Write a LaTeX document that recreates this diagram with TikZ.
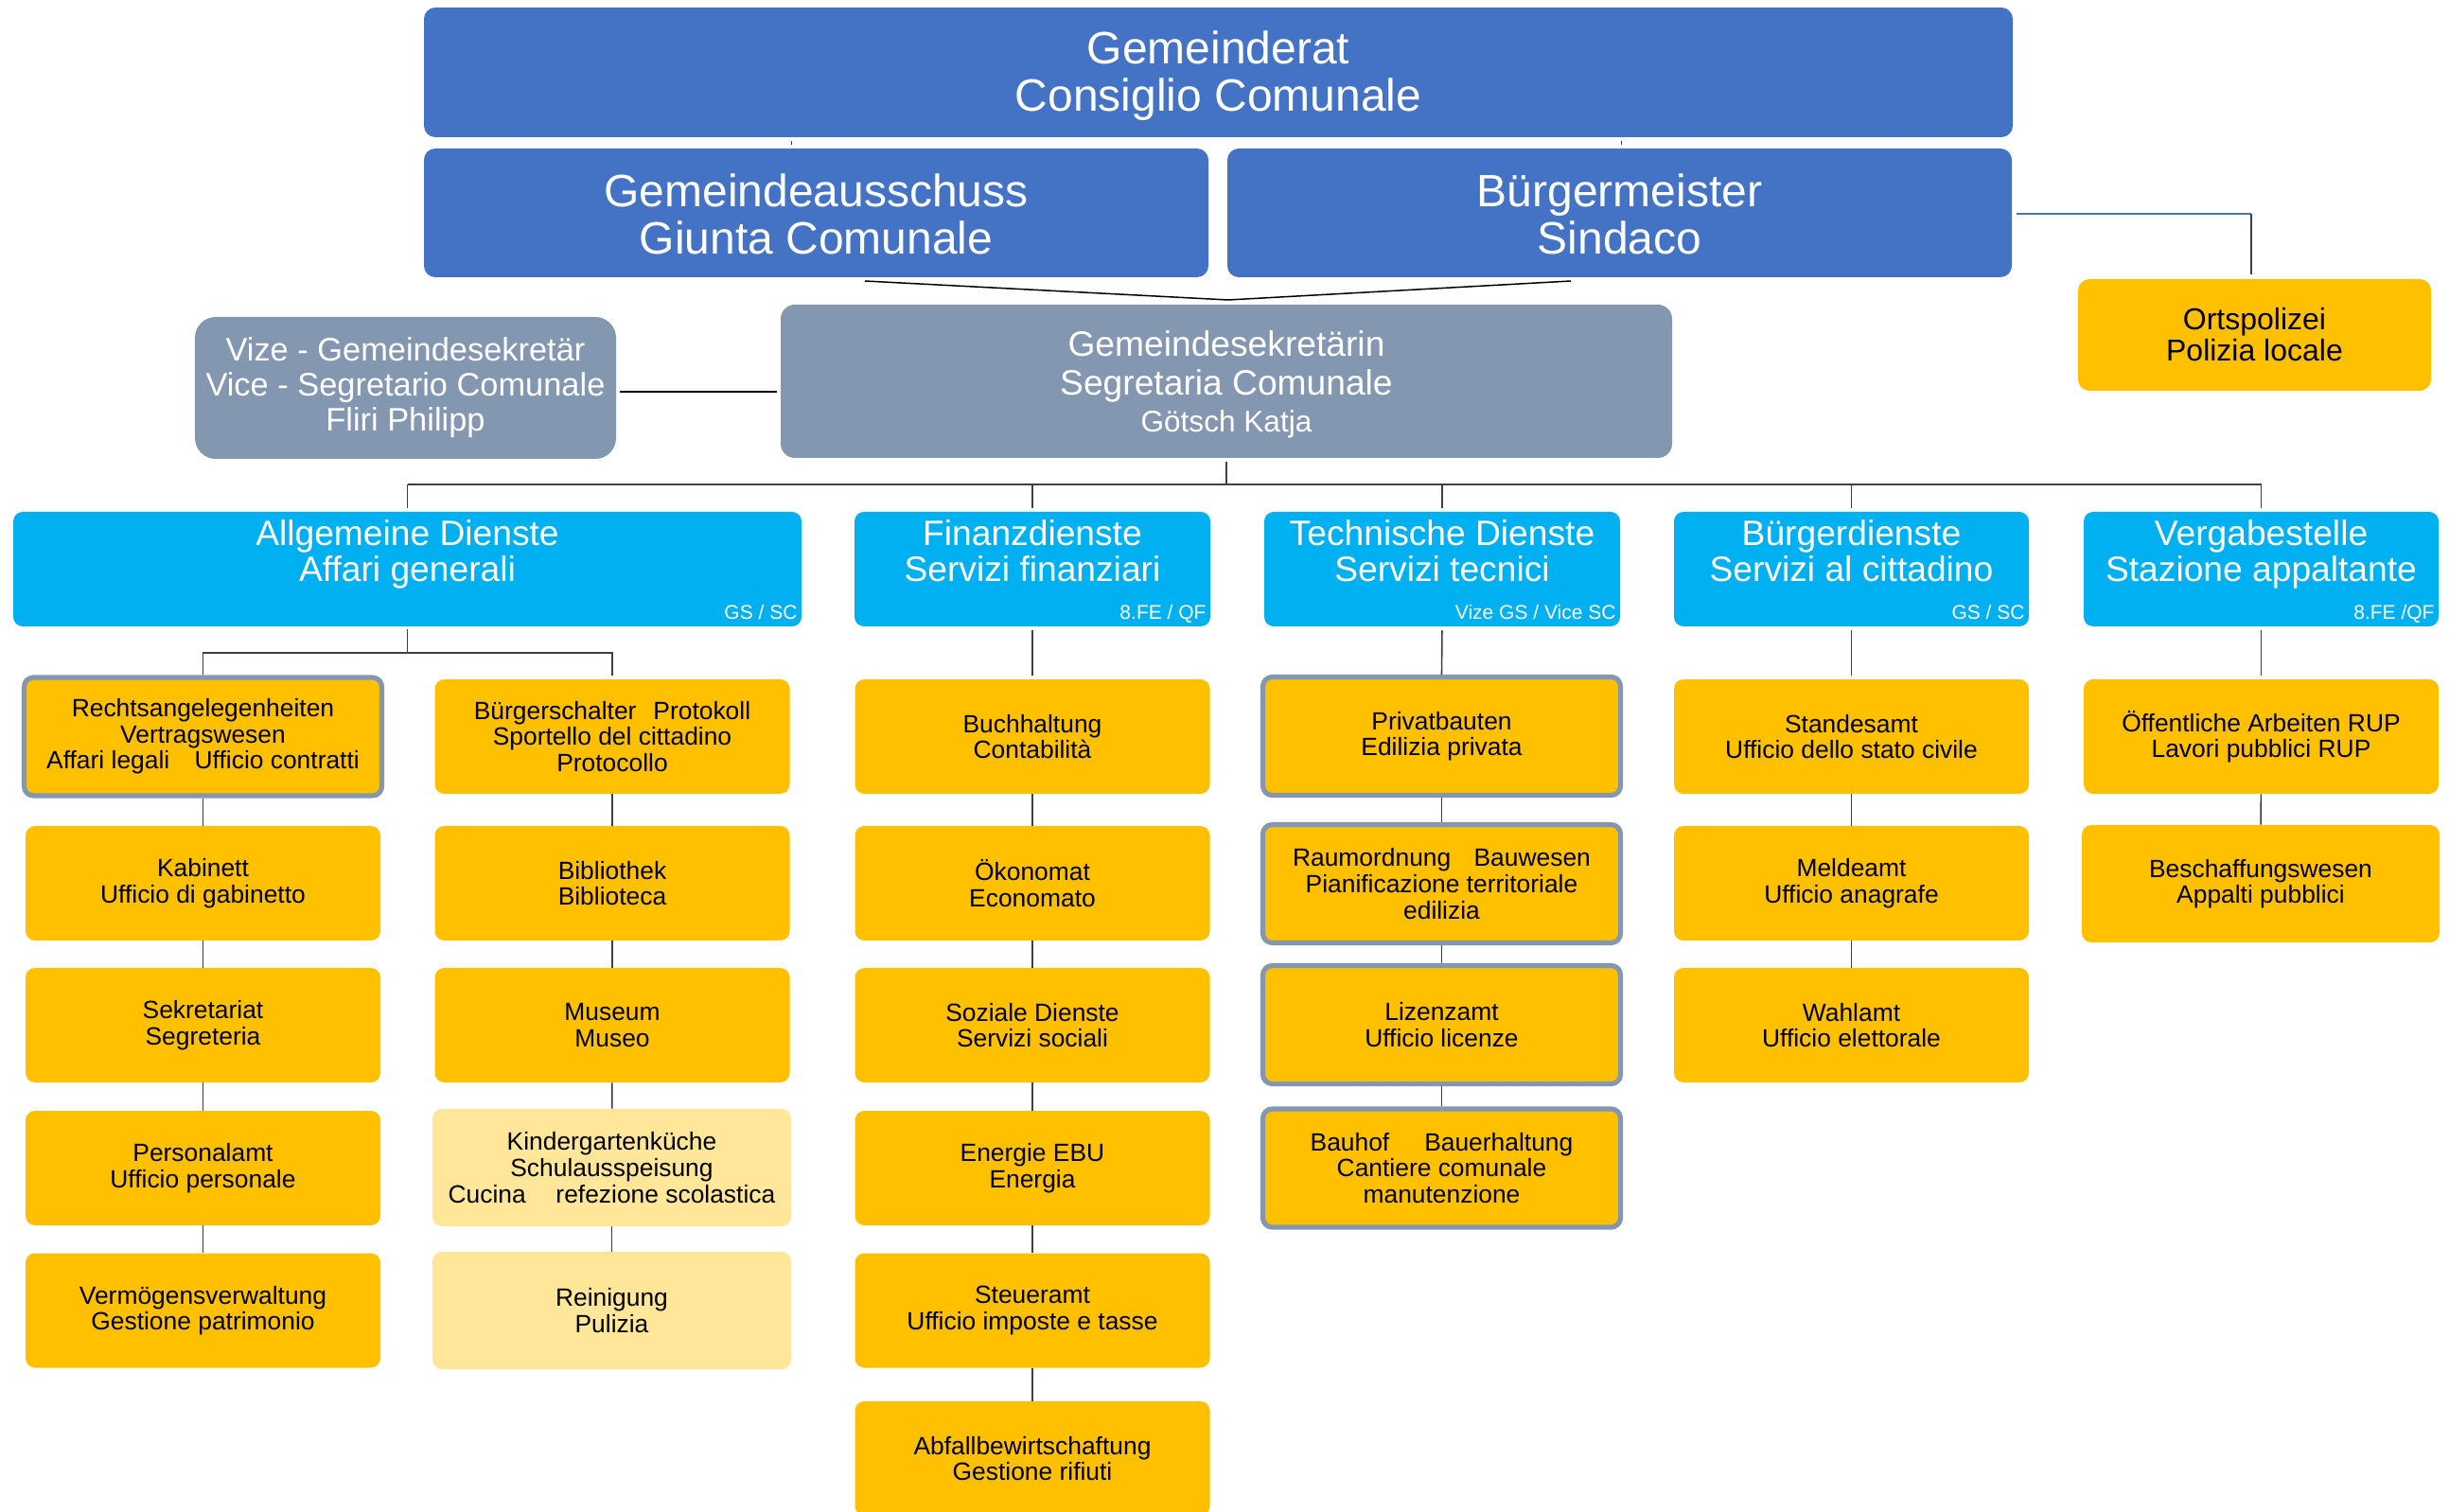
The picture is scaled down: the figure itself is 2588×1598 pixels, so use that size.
\documentclass[tikz,border=0pt]{standalone}
\usepackage{fontspec}
\setmainfont{Liberation Sans}
\definecolor{topblue}{HTML}{4472C4}
\definecolor{grayb}{HTML}{8497B0}
\definecolor{cyanb}{HTML}{00B0F0}
\definecolor{yel}{HTML}{FFC000}
\definecolor{lyel}{HTML}{FFE699}
\definecolor{linec}{HTML}{404040}
\begin{document}
\begin{tikzpicture}[x=0.5pt,y=-0.5pt,
  box/.style={rounded corners=5pt, inner sep=0pt, align=center},
  sz/.style 2 args={minimum width=#1*0.5pt, minimum height=#2*0.5pt},
  topbox/.style={box, fill=topblue, text=white, rounded corners=6pt, font=\fontsize{24}{25}\selectfont},
  graybox/.style={box, fill=grayb, text=white},
  dept/.style={box, fill=cyanb, sz={375}{121}},
  dtitle/.style={text=white, inner sep=0pt, align=center, anchor=north, yshift=-2.8pt, font=\fontsize{18.6}{19}\selectfont},
  dtag/.style={text=white, inner sep=0pt, anchor=base east, xshift=-2.25pt, yshift=4pt, font=\fontsize{10.5}{12}\selectfont},
  leaf/.style={box, fill=yel, sz={375}{121}, font=\fontsize{13.2}{13.8}\selectfont},
  lite/.style={leaf, fill=lyel, sz={379}{124}},
  bord/.style={leaf, draw=grayb, line width=2.6pt, sz={378}{125}},
  conn/.style={draw=linec, line width=0.8pt},
  thin/.style={draw=black, line width=0.75pt},
]
\useasboundingbox (0,0) rectangle (2588,1598);
\fill[white] (0,0) rectangle (2588,1598);

% top level
\node[topbox, sz={1679}{137}] (gr) at (1287.5,76.5) {\rule{0pt}{0.86em}Gemeinderat\\Consiglio Comunale};
\node[topbox, sz={829}{136}] (ga) at (862.5,225) {\rule{0pt}{0.8em}Gemeindeausschuss\\Giunta Comunale};
\node[topbox, sz={829}{136}] (bm) at (1711.5,225) {\rule{0pt}{0.8em}Bürgermeister\\Sindaco};
\node[graybox, rounded corners=7.5pt, sz={942}{162}, font=\fontsize{18.6}{20.5}\selectfont] (gs) at (1296,403)
  {\rule{0pt}{0.9em}Gemeindesekretärin\\Segretaria Comunale\\[-1pt]{\fontsize{15.8}{19.5}\selectfont Götsch Katja}};
\node[graybox, rounded corners=11pt, sz={445}{150}, font=\fontsize{17.2}{18.5}\selectfont] (vz) at (428.5,410)
  {Vize - Gemeindesekretär\\Vice - Segretario Comunale\\Fliri Philipp};
\node[box, fill=yel, rounded corners=6pt, sz={373}{118}, font=\fontsize{16}{16.5}\selectfont] (op) at (2382.5,354)
  {Ortspolizei\\Polizia locale};

% departments
\node[dept, sz={833}{121}] (d1) at (430.5,601.5) {};
\node[dept, sz={376}{121}] (d2) at (1091,601.5) {};
\node[dept, sz={376}{121}] (d3) at (1524,601.5) {};
\node[dept] (d4) at (1956.5,601.5) {};
\node[dept] (d5) at (2389.5,601.5) {};
\node[dtitle] (d1t) at (d1.north) {\rule{0pt}{0.8em}Allgemeine Dienste\\Affari generali};
\node[dtitle] (d2t) at (d2.north) {\rule{0pt}{0.8em}Finanzdienste\\Servizi finanziari};
\node[dtitle] (d3t) at (d3.north) {\rule{0pt}{0.8em}Technische Dienste\\Servizi tecnici};
\node[dtitle] (d4t) at (d4.north) {\rule{0pt}{0.8em}Bürgerdienste\\Servizi al cittadino};
\node[dtitle] (d5t) at (d5.north) {\rule{0pt}{0.8em}Vergabestelle\\Stazione appaltante};
\node[dtag] (d1g) at (d1.south east) {GS / SC};
\node[dtag] (d2g) at (d2.south east) {8.FE / QF};
\node[dtag] (d3g) at (d3.south east) {Vize GS / Vice SC};
\node[dtag] (d4g) at (d4.south east) {GS / SC};
\node[dtag] (d5g) at (d5.south east) {8.FE /QF};

% column A
\node[bord] (a1) at (214.5,778.5) {Rechtsangelegenheiten\\Vertragswesen\\Affari legali\hspace{1em}Ufficio contratti};
\node[leaf] (a2) at (214.5,933.5) {Kabinett\\Ufficio di gabinetto};
\node[leaf] (a3) at (214.5,1083.5) {Sekretariat\\Segreteria};
\node[leaf] (a4) at (214.5,1234.5) {Personalamt\\Ufficio personale};
\node[leaf] (a5) at (214.5,1385) {Vermögensverwaltung\\Gestione patrimonio};
% column B
\node[leaf] (b1) at (647,778.5) {Bürgerschalter\hspace{0.68em}Protokoll\\Sportello del cittadino\\Protocollo};
\node[leaf] (b2) at (647,933.5) {Bibliothek\\Biblioteca};
\node[leaf] (b3) at (647,1083.5) {Museum\\Museo};
\node[lite] (b4) at (646.5,1234) {Kindergartenküche\\Schulausspeisung\\Cucina\hspace{1.2em}refezione scolastica};
\node[lite] (b5) at (646.5,1385) {Reinigung\\Pulizia};
% column C
\node[leaf] (c1) at (1091,778.5) {Buchhaltung\\Contabilità};
\node[leaf] (c2) at (1091,933.5) {Ökonomat\\Economato};
\node[leaf] (c3) at (1091,1083.5) {Soziale Dienste\\Servizi sociali};
\node[leaf] (c4) at (1091,1234.5) {Energie EBU\\Energia};
\node[leaf] (c5) at (1091,1385) {Steueramt\\Ufficio imposte e tasse};
\node[leaf] (c6) at (1091,1541.5) {Abfallbewirtschaftung\\Gestione rifiuti};
% column D
\node[bord] (e1) at (1523.5,778) {Privatbauten\\Edilizia privata};
\node[bord] (e2) at (1523.5,934) {Raumordnung\hspace{0.92em}Bauwesen\\Pianificazione territoriale\\edilizia};
\node[bord] (e3) at (1523.5,1083) {Lizenzamt\\Ufficio licenze};
\node[bord] (e4) at (1523.5,1234.5) {Bauhof\hspace{1.4em}Bauerhaltung\\Cantiere comunale\\manutenzione};
% column E
\node[leaf] (f1) at (1956.5,778.5) {Standesamt\\Ufficio dello stato civile};
\node[leaf] (f2) at (1956.5,933.5) {Meldeamt\\Ufficio anagrafe};
\node[leaf] (f3) at (1956.5,1083.5) {Wahlamt\\Ufficio elettorale};
% column F
\node[leaf] (g1) at (2389.5,778.5) {Öffentliche Arbeiten RUP\\Lavori pubblici RUP};
\node[leaf, sz={378}{124}] (g2) at (2389,934) {Beschaffungswesen\\Appalti pubblici};

% connectors top
\coordinate (k1) at (836,0);
\coordinate (k2) at (1713,0);
\draw[conn, line width=0.5pt, shorten <=2pt, shorten >=2pt] (gr.south -| k1) -- (ga.north -| k1);
\draw[conn, line width=0.5pt, shorten <=2pt, shorten >=2pt] (gr.south -| k2) -- (bm.north -| k2);
\coordinate (p1) at (914,297);
\coordinate (p2) at (1660,297);
\coordinate (pm) at (1298,317);
\draw[thin] (p1) -- (pm) -- (p2);
\coordinate (vl) at (0,414);
\draw[thin, shorten <=2pt, shorten >=2pt] (vz.east |- vl) -- (gs.west |- vl);
\coordinate (ol) at (0,226);
\coordinate (oc) at (2379,0);
\draw[draw=topblue, line width=0.75pt] ([xshift=2.5pt]bm.east |- ol) -- (oc |- ol);
\draw[conn, shorten >=2.5pt] (oc |- ol) -- (oc |- op.north);

% bus
\coordinate (bus) at (0,512);
\draw[conn, shorten <=2pt] (gs.south) -- (gs.south |- bus);
\draw[conn] (d1.north |- bus) -- (d5.north |- bus);
\foreach \d in {d1,d2,d3,d4,d5}{
  \draw[conn, shorten <=2pt] (\d.north) -- (\d.north |- bus);
}

% Allgemeine branch
\coordinate (j1) at (0,690);
\draw[conn, shorten <=1.5pt] (d1.south) -- (d1.south |- j1);
\draw[conn] (a1.north) -- (a1.north |- j1) -| ([yshift=2pt]b1.north);

% columns
\draw[conn] (a1) -- (a2);
\draw[conn] (a2) -- (a3);
\draw[conn] (a3) -- (a4);
\draw[conn] (a4) -- (a5);
\draw[conn] (b1) -- (b2);
\draw[conn] (b2) -- (b3);
\draw[conn] (b3) -- (b4);
\draw[conn] (b4) -- (b5);
\draw[conn, shorten <=2pt, shorten >=2pt] (d2) -- (c1);
\draw[conn] (c1) -- (c2);
\draw[conn] (c2) -- (c3);
\draw[conn] (c3) -- (c4);
\draw[conn] (c4) -- (c5);
\draw[conn] (c5) -- (c6);
\draw[conn, shorten <=2pt] (d3.south) -- (e1.north);
\draw[conn] (e1) -- (e2);
\draw[conn] (e2) -- (e3);
\draw[conn] (e3) -- (e4);
\draw[conn, shorten <=2pt, shorten >=2pt] (d4) -- (f1);
\draw[conn] (f1) -- (f2);
\draw[conn] (f2) -- (f3);
\draw[conn, shorten <=2pt, shorten >=2pt] (d5) -- (g1);
\draw[conn] (g1) -- (g2);
\end{tikzpicture}
\end{document}
